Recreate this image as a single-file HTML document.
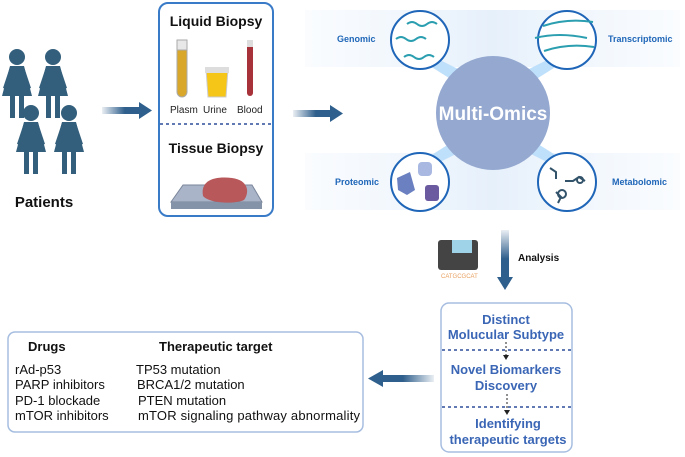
<!DOCTYPE html>
<html><head><meta charset="utf-8"><style>
html,body{margin:0;padding:0;background:#fff;}
svg{display:block;font-family:"Liberation Sans",sans-serif;}
</style></head><body>
<svg width="685" height="457" viewBox="0 0 685 457" xmlns="http://www.w3.org/2000/svg">
<defs>
<linearGradient id="ga" x1="0" x2="1"><stop offset="0" stop-color="#2f5f8c" stop-opacity="0.1"/><stop offset="0.6" stop-color="#2f5f8c"/></linearGradient>
<linearGradient id="gl" x1="1" x2="0"><stop offset="0" stop-color="#2f5f8c" stop-opacity="0.1"/><stop offset="0.6" stop-color="#2f5f8c"/></linearGradient>
<linearGradient id="gd" x1="0" y1="0" x2="0" y2="1"><stop offset="0" stop-color="#2f5f8c" stop-opacity="0.1"/><stop offset="0.6" stop-color="#2f5f8c"/></linearGradient>
<linearGradient id="band" x1="0" x2="1"><stop offset="0" stop-color="#eef5fc" stop-opacity="0.3"/><stop offset="0.5" stop-color="#e6f0fb"/><stop offset="1" stop-color="#eef5fc" stop-opacity="0.3"/></linearGradient>
<g id="p" fill="#335f7c">
<circle cx="0" cy="-1" r="8"/>
<path d="M-7,8 L7,8 L15,38 L-15,38 Z"/>
<rect x="-7" y="38" width="5" height="22"/><rect x="2" y="38" width="5" height="22"/>
<path d="M-7,9 L-14,30 L-11,31 L-4,13Z M7,9 L14,30 L11,31 L4,13Z"/>
</g>
</defs>
<!-- patients -->
<use href="#p" x="17" y="58"/><use href="#p" x="53" y="58"/>
<use href="#p" x="31" y="114"/><use href="#p" x="69" y="114"/>
<text x="44" y="207" font-size="15" font-weight="bold" text-anchor="middle" fill="#111">Patients</text>
<!-- arrow1 -->
<rect x="102" y="107" width="38" height="7" fill="url(#ga)"/><path d="M139,102 L152,110.5 L139,119Z" fill="#2f5f8c"/>
<!-- biopsy box -->
<rect x="159" y="3" width="114" height="213" rx="9" fill="#fff" stroke="#3a7bc8" stroke-width="2"/>
<text x="216" y="26" font-size="14" font-weight="bold" text-anchor="middle" fill="#111">Liquid Biopsy</text>
<rect x="177" y="40" width="10" height="57" rx="5" fill="#d9a82a" stroke="#aaa"/>
<rect x="177" y="40" width="10" height="10" fill="#e8e8e8" stroke="#aaa"/>
<path d="M206,69 L228,69 L226,97 L208,97Z" fill="#f5c518" stroke="#ccc"/>
<rect x="205" y="67" width="24" height="6" fill="#ddd"/>
<rect x="247" y="40" width="6" height="56" rx="3" fill="#a8323a"/>
<rect x="247" y="40" width="6" height="7" fill="#ddd"/>
<text x="170" y="113" font-size="10" fill="#222">Plasm</text>
<text x="203" y="113" font-size="10" fill="#222">Urine</text>
<text x="237" y="113" font-size="10" fill="#222">Blood</text>
<line x1="160" y1="124" x2="272" y2="124" stroke="#2e4f9a" stroke-width="1.5" stroke-dasharray="3,3"/>
<text x="216" y="153" font-size="14" font-weight="bold" text-anchor="middle" fill="#111">Tissue Biopsy</text>
<path d="M183,185 L252,185 L262,202 L171,202Z" fill="#a9b4c8" stroke="#7a869b"/>
<rect x="171" y="202" width="91" height="7" fill="#8593a8"/>
<path d="M203,196 C200,180 215,176 232,178 C248,180 250,192 244,200 C236,204 210,204 203,196Z" fill="#b8585a"/>
<!-- arrow2 -->
<rect x="293" y="110" width="38" height="7" fill="url(#ga)"/><path d="M330,105 L343,113.5 L330,122Z" fill="#2f5f8c"/>
<!-- bands -->
<rect x="305" y="10" width="375" height="57" fill="url(#band)"/>
<rect x="305" y="153" width="375" height="57" fill="url(#band)"/>
<!-- connectors -->
<path d="M440,60 L470,75 L460,85 L430,66Z" fill="#bfe0fb"/>
<path d="M547,60 L517,75 L527,85 L557,66Z" fill="#bfe0fb"/>
<path d="M440,162 L470,147 L460,137 L430,156Z" fill="#bfe0fb"/>
<path d="M547,162 L517,147 L527,137 L557,156Z" fill="#bfe0fb"/>
<circle cx="493" cy="113" r="57" fill="#94a8d0"/>
<text x="493" y="120" font-size="19" font-weight="bold" text-anchor="middle" fill="#fff">Multi-Omics</text>
<g fill="#fff" stroke="#1f66b8" stroke-width="2">
<circle cx="420" cy="40" r="29"/><circle cx="567" cy="40" r="29"/>
<circle cx="420" cy="182" r="29"/><circle cx="567" cy="182" r="29"/>
</g>
<g stroke="#2b9fb0" stroke-width="2" fill="none">
<path d="M407,24 q5,-4 10,0 t10,0 t10,0"/><path d="M396,39 q5,-4 10,0 t10,0 t10,0"/><path d="M404,57 q5,-4 10,0 t10,0 t10,0"/>
<path d="M543,26 q24,-8 50,-4"/><path d="M535,38 q24,-6 52,0"/><path d="M544,51 q24,-8 50,-4"/>
</g>
<g fill="#6a80c0"><path d="M397,178 L410,172 L415,190 L407,195 L398,190Z"/><rect x="418" y="162" width="14" height="14" rx="4" fill="#a8b8e0"/><rect x="425" y="185" width="14" height="16" rx="3" fill="#6b5aa0"/></g>
<g stroke="#33536b" stroke-width="2" fill="none"><path d="M550,168 l6,4 l0,7 M565,181 l8,0 l6,-4 l6,4 M556,192 l5,5 l-3,6"/><circle cx="580" cy="180" r="3"/><circle cx="562" cy="194" r="4"/></g>
<g font-size="9" font-weight="bold" fill="#1f66b8">
<text x="337" y="42">Genomic</text><text x="608" y="42">Transcriptomic</text>
<text x="335" y="185">Proteomic</text><text x="612" y="185">Metabolomic</text>
</g>
<!-- analysis -->
<rect x="501" y="230" width="8" height="48" fill="url(#gd)"/><path d="M497,277 L513,277 L505,290Z" fill="#2f5f8c"/>
<rect x="438" y="240" width="40" height="30" rx="3" fill="#444"/><rect x="452" y="240" width="20" height="13" fill="#9fd3e8"/>
<text x="441" y="278" font-size="6" fill="#e8a060">CATGCGCAT</text>
<text x="518" y="261" font-size="10" font-weight="bold" fill="#111">Analysis</text>
<!-- results box -->
<rect x="441" y="303" width="131" height="149" rx="8" fill="#fff" stroke="#a6bde0" stroke-width="1.5"/>
<g font-size="13" font-weight="bold" fill="#3a66b5" text-anchor="middle">
<text x="506" y="324">Distinct</text><text x="506" y="339">Molucular Subtype</text>
<text x="506" y="374">Novel Biomarkers</text><text x="506" y="390">Discovery</text>
<text x="508" y="428">Identifying</text><text x="508" y="444">therapeutic targets</text>
</g>
<line x1="442" y1="350" x2="571" y2="350" stroke="#2e4f9a" stroke-width="1.5" stroke-dasharray="3,3"/>
<line x1="442" y1="407" x2="571" y2="407" stroke="#2e4f9a" stroke-width="1.5" stroke-dasharray="3,3"/>
<g stroke="#222" stroke-dasharray="2,2"><line x1="506" y1="342" x2="506" y2="355"/><line x1="507" y1="394" x2="507" y2="410"/></g>
<path d="M503,355 L509,355 L506,360Z M504,410 L510,410 L507,415Z" fill="#222"/>
<!-- left arrow -->
<rect x="382" y="375" width="52" height="7" fill="url(#gl)"/><path d="M383,370 L368,378.5 L383,387Z" fill="#2f5f8c"/>
<!-- drugs box -->
<rect x="8" y="332" width="355" height="100" rx="7" fill="#fff" stroke="#a6bde0" stroke-width="1.5"/>
<text x="28" y="351" font-size="13" font-weight="bold" fill="#111">Drugs</text>
<text x="159" y="351" font-size="13" font-weight="bold" fill="#111">Therapeutic target</text>
<g font-size="13" fill="#111">
<text x="15" y="374">rAd-p53</text><text x="15" y="389">PARP inhibitors</text><text x="15" y="405">PD-1 blockade</text><text x="15" y="420">mTOR inhibitors</text>
<text x="136" y="374">TP53 mutation</text><text x="137" y="389">BRCA1/2 mutation</text><text x="138" y="405">PTEN mutation</text><text x="138" y="420" textLength="222">mTOR signaling pathway abnormality</text>
</g>
</svg>
</body></html>
